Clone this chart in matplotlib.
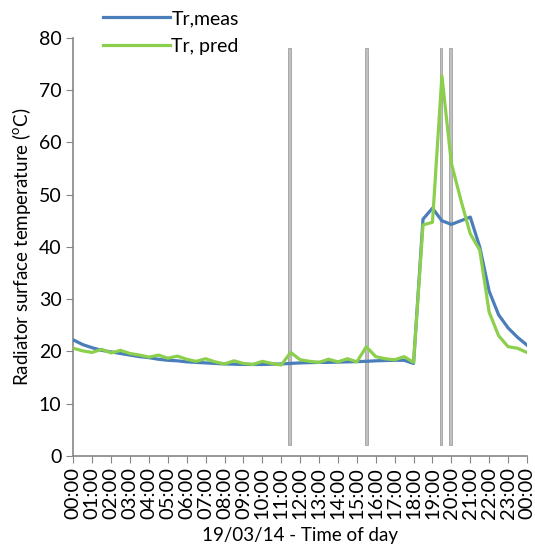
import matplotlib
matplotlib.use('Agg')
import matplotlib.pyplot as plt
import numpy as np

plt.rcParams['font.family'] = ['Lato', 'DejaVu Sans']

# half-hourly samples, hours since midnight
hours = np.arange(0, 24.5, 0.5)

tr_meas = [22.2, 21.3, 20.7, 20.2, 19.9, 19.6, 19.3, 19.0, 18.8, 18.5,
           18.3, 18.2, 18.0, 17.9, 17.8, 17.7, 17.6, 17.55, 17.5, 17.5,
           17.5, 17.55, 17.6, 17.7, 17.8, 17.85, 17.9, 17.9, 17.95, 18.0,
           18.05, 18.1, 18.2, 18.25, 18.3, 18.3, 17.7, 45.3, 47.4, 45.0,
           44.3, 45.0, 45.7, 40.0, 31.5, 27.0, 24.5, 22.7, 21.2]

tr_pred = [20.6, 20.1, 19.8, 20.4, 19.7, 20.2, 19.6, 19.3, 18.9, 19.3,
           18.7, 19.1, 18.5, 18.1, 18.6, 18.0, 17.6, 18.2, 17.7, 17.5,
           18.1, 17.7, 17.4, 19.8, 18.4, 18.1, 17.9, 18.5, 18.0, 18.6,
           18.0, 20.9, 19.0, 18.6, 18.4, 19.0, 17.9, 44.2, 44.7, 72.7,
           56.0, 49.0, 42.5, 39.4, 27.5, 23.0, 20.9, 20.6, 19.8]

# grey marker bars (hour positions)
marker_hours = [11.45, 15.5, 19.45, 19.95]
marker_bottom = 2
marker_top = 78

tick_labels = ['%02d:00' % (h % 24) for h in range(25)]

fig = plt.figure(figsize=(5.35, 5.48), dpi=100)
ax = fig.add_axes([0.137, 0.168, 0.848, 0.763])

ax.bar(marker_hours, marker_top - marker_bottom, bottom=marker_bottom, width=0.15,
       color='#c0c0c0', edgecolor='#a0a0a0', linewidth=0.6, zorder=1)

ax.plot(hours, tr_meas, color='#4a7ebb', linewidth=2.3, label='Tr,meas', zorder=3,
        solid_joinstyle='round')
ax.plot(hours, tr_pred, color='#8ccf4d', linewidth=2.3, label='Tr, pred', zorder=4,
        solid_joinstyle='round')

ax.set_xlim(0, 24)
ax.set_ylim(0, 80)
ax.set_xticks(range(25))
ax.set_xticklabels(tick_labels, rotation=90, fontsize=14.5)
ax.set_yticks(range(0, 81, 10))
ax.tick_params(axis='y', labelsize=14, length=5, color='#868686', direction='out')
ax.tick_params(axis='x', length=5, color='#868686', direction='out', pad=3)

for side in ['top', 'right']:
    ax.spines[side].set_visible(False)
for side in ['left', 'bottom']:
    ax.spines[side].set_color('#868686')
    ax.spines[side].set_linewidth(1.2)

ax.set_ylabel(r'Radiator surface temperature ($^{\mathregular{o}}$C)', fontsize=13.5,
              labelpad=4)
ax.set_xlabel('19/03/14 - Time of day', fontsize=13.5, labelpad=6)

ax.legend(loc='upper left', bbox_to_anchor=(0.045, 1.09), frameon=False, fontsize=14,
          handlelength=3.4, borderpad=0, labelspacing=0.55, handletextpad=0.1)

fig.savefig('out.png', dpi=100)
